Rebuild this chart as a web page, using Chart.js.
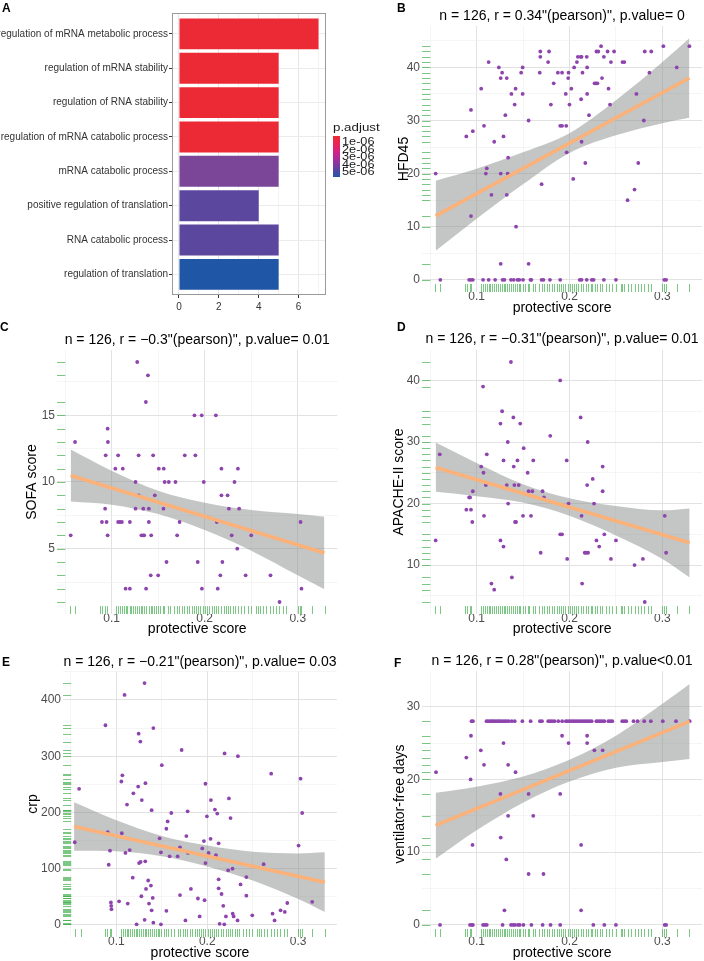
<!DOCTYPE html>
<html><head><meta charset="utf-8">
<script src="https://cdn.jsdelivr.net/npm/chart.js@4.4.1/dist/chart.umd.min.js"></script>
<style>
html,body{margin:0;padding:0;background:#fff;}
#wrap{position:relative;width:704px;height:961px;overflow:hidden;font-family:'Liberation Sans',Arial,Helvetica,sans-serif;background:#fff;}
canvas{position:absolute;}
.lab{position:absolute;font-weight:bold;font-size:12px;line-height:12px;color:#000;}
.lg{position:absolute;font-size:10px;line-height:12px;color:#1a1a1a;transform:scaleX(1.27);transform-origin:0 0;white-space:nowrap;}
</style></head><body>
<div id="wrap">
<canvas id="cA" width="352" height="320" style="left:0;top:0"></canvas>
<canvas id="cB" width="352" height="320" style="left:352px;top:0"></canvas>
<canvas id="cC" width="352" height="320" style="left:0;top:320px"></canvas>
<canvas id="cD" width="352" height="320" style="left:352px;top:320px"></canvas>
<canvas id="cE" width="352" height="321" style="left:0;top:640px"></canvas>
<canvas id="cF" width="352" height="321" style="left:352px;top:640px"></canvas>
<div class="lab" style="left:2px;top:2.4px">A</div>
<div class="lab" style="left:397px;top:1.7px">B</div>
<div class="lab" style="left:0px;top:321.4px">C</div>
<div class="lab" style="left:397px;top:321.4px">D</div>
<div class="lab" style="left:2px;top:656.4px">E</div>
<div class="lab" style="left:394px;top:657.4px">F</div>
<div class="lg" style="left:333px;top:120.5px;font-size:10.5px">p.adjust</div>
<div style="position:absolute;left:333px;top:136px;width:7px;height:41px;background:linear-gradient(to bottom,#EE2A33 0%,#E8245E 22%,#D3208A 40%,#A32E9C 58%,#6C3FA0 76%,#2356A6 100%);"></div>
<div class="lg" style="left:342px;top:136px">1e-06</div>
<div class="lg" style="left:342px;top:143.5px">2e-06</div>
<div class="lg" style="left:342px;top:151px">3e-06</div>
<div class="lg" style="left:342px;top:158.5px">4e-06</div>
<div class="lg" style="left:342px;top:166px">5e-06</div>
</div>
<script>
// ---------------- Panel A data ----------------
const goTerms = ["regulation of mRNA metabolic process","regulation of mRNA stability","regulation of RNA stability","regulation of mRNA catabolic process","mRNA catabolic process","positive regulation of translation","RNA catabolic process","regulation of translation"];
const goCounts = [7,5,5,5,5,4,5,5];
const barColors = ['#EC2A35','#EC2A35','#EC2A35','#EC2A35','#7B4598','#5B479E','#5B479E','#1F56A6'];
const countTicks = [0,2,4,6];

// ---------------- shared rug of protective scores ----------------
const rugScores = [0.055,0.061,0.0871,0.0896,0.0925,0.0945,0.105,0.1068,0.1093,0.1115,
0.1132,0.115,0.1168,0.1193,0.1211,0.1232,0.1254,0.1275,0.129,0.1311,
0.1329,0.1346,0.1372,0.1397,0.1418,0.1436,0.1454,0.1472,0.1496,0.1525,
0.155,0.1568,0.1604,0.1632,0.1675,0.1704,0.1729,0.1754,0.1782,0.1811,
0.1836,0.1865,0.189,0.1908,0.1932,0.1954,0.1979,0.2004,0.2025,0.205,
0.2075,0.2096,0.2122,0.2147,0.2176,0.2204,0.2229,0.2247,0.2272,0.23,
0.2326,0.2354,0.239,0.2426,0.2461,0.2497,0.2551,0.257,0.259,0.2625,
0.2658,0.27,0.2732,0.2768,0.28,0.2846,0.2875,0.3,0.302,0.304,
0.3154,0.329];
const scoreTicks = [0.1,0.2,0.3];

// ---------------- Panel B: HFD45 ----------------
const hfdX = [0.056,0.061,0.089,0.094,0.092,0.094,0.096,0.094,0.096,0.105,
0.107,0.108,0.110,0.111,0.113,0.113,0.116,0.119,0.120,0.124,
0.126,0.126,0.126,0.1275,0.128,0.130,0.129,0.131,0.1325,0.1325,
0.134,0.1335,0.1375,0.137,0.140,0.141,0.142,0.1425,0.144,0.146,
0.148,0.1496,0.1496,0.150,0.156,0.156,0.158,0.159,0.168,0.1686,
0.1686,0.170,0.170,0.172,0.177,0.178,0.180,0.179,0.183,0.1875,
0.190,0.190,0.192,0.192,0.196,0.1965,0.197,0.1986,0.199,0.200,
0.202,0.204,0.205,0.208,0.209,0.212,0.213,0.211,0.213,0.2125,
0.213,0.214,0.217,0.2186,0.219,0.219,0.2186,0.221,0.224,0.226,
0.227,0.2286,0.230,0.229,0.231,0.234,0.235,0.237,0.237,0.241,
0.242,0.2436,0.2446,0.248,0.250,0.257,0.259,0.2625,0.270,0.272,
0.274,0.280,0.281,0.286,0.288,0.301,0.302,0.304,0.3154,0.329];
const hfdY = [20,0,27,32,0,0,0,12,28,36,
0,29,20,21,41,0,16,26,0,40,
38,20,3,39,0,0,27,31,38,16,
23,20,35,0,0,33,36,10,0,0,
39,40,35,0,30,3,0,0,39,43,
42,18,0,0,41,43,33,0,37,39,
0,29,29,39,35,29,24,38,39,33,
36,19,40,41,42,42,42,0,0,34,
26,39,22,42,40,35,0,31,0,0,
37,37,37,43,43,44,38,42,0,43,
36,33,41,43,0,41,41,15,17,35,
22,30,43,39,43,44,0,0,40,44];
const hfdBandX = [0.056,0.1,0.15,0.2,0.25,0.3,0.329];
const hfdHi = [18.65,20.9,24.0,27.6,33.8,41.0,45.5];
const hfdLo = [5.45,11.5,18.0,23.9,27.2,29.5,30.5];
const hfdFit = [12.05,38.0];

// ---------------- Panel C: SOFA ----------------
const sofaX = [0.056,0.0607,0.0896,0.093,0.0936,0.0946,0.0957,0.096,0.0957,0.104,
0.107,0.107,0.109,0.111,0.112,0.115,0.1196,0.1196,0.1257,0.1257,
0.1275,0.129,0.129,0.132,0.134,0.135,0.134,0.1368,0.137,0.139,
0.140,0.140,0.142,0.1425,0.1446,0.1464,0.150,0.1507,0.156,0.1557,
0.157,0.1614,0.159,0.1686,0.1704,0.173,0.1786,0.189,0.190,0.1925,
0.1968,0.197,0.199,0.212,0.213,0.214,0.2168,0.218,0.218,0.219,
0.2246,0.226,0.229,0.232,0.235,0.2357,0.237,0.244,0.250,0.2707,
0.2804,0.303,0.304];
const sofaY = [6,13,7,8,12,7,14,13,6,11,
12,7,7,7,11,2,2,7,10,8,
19,12,9,6,6,6,8,16,2,18,
8,7,3,6,12,9,3,11,11,8,
10,10,4,10,6,7,12,15,12,4,
15,2,10,15,7,2,3,11,9,4,
9,8,6,10,5,11,8,3,6,3,
1,7,2];
const sofaBandX = [0.056,0.1,0.15,0.2,0.25,0.3,0.3286];
const sofaHi = [12.44,10.85,9.35,8.45,7.9,7.6,7.4];
const sofaLo = [8.54,8.3,7.6,6.4,4.85,3.0,1.96];
const sofaFit = [10.49,4.68];

// ---------------- Panel D: APACHE-II ----------------
const apacheX = [0.056,0.0604,0.089,0.092,0.093,0.094,0.0954,0.096,0.105,0.107,
0.1075,0.108,0.110,0.111,0.116,0.119,0.1257,0.1257,0.1275,0.129,
0.129,0.1325,0.1336,0.134,0.137,0.138,0.1396,0.140,0.1407,0.1414,
0.1425,0.144,0.1454,0.147,0.150,0.1507,0.155,0.156,0.1586,0.160,
0.161,0.169,0.171,0.1725,0.1793,0.190,0.190,0.192,0.197,0.1975,
0.199,0.212,0.213,0.2136,0.2164,0.218,0.220,0.219,0.2196,0.225,
0.2264,0.229,0.232,0.2357,0.2357,0.2375,0.2446,0.250,0.270,0.279,
0.281,0.3025,0.304];
const apacheY = [14,28,19,21,21,19,17,22,26,39,
25,18,23,28,7,6,33,14,35,27,
13,23,30,20,43,8,34,26,23,17,
17,27,23,33,18,29,25,22,18,22,
27,12,22,21,31,40,15,15,27,11,
20,34,18,7,12,12,12,23,30,24,
20,14,13,26,22,15,11,14,10,11,
4,18,12];
const apacheBandX = [0.056,0.1,0.15,0.2,0.25,0.3,0.3293];
const apacheHi = [29.9,26.6,23.15,20.85,19.6,18.9,19.2];
const apacheLo = [21.9,21.2,20.15,18.0,14.8,11.0,8.0];
const apacheFit = [25.86,13.63];

// ---------------- Panel E: crp ----------------
const crpX = [0.0542,0.059,0.088,0.0905,0.0916,0.093,0.094,0.0943,0.0946,0.103,
0.1055,0.1066,0.106,0.109,0.110,0.1117,0.1125,0.1147,0.118,0.1187,
0.1223,0.124,0.1245,0.125,0.1264,0.1267,0.1275,0.128,0.131,0.1311,
0.1318,0.132,0.1326,0.135,0.1359,0.138,0.1388,0.1388,0.140,0.1407,
0.1407,0.1476,0.149,0.149,0.150,0.155,0.155,0.1564,0.1586,0.1604,
0.1674,0.170,0.170,0.1718,0.176,0.177,0.1784,0.1788,0.182,0.1897,
0.1916,0.1945,0.1963,0.197,0.198,0.198,0.1996,0.2015,0.2036,0.204,
0.2084,0.2095,0.211,0.2125,0.2125,0.2125,0.2136,0.2157,0.2176,0.2187,
0.219,0.2205,0.223,0.2238,0.2256,0.2278,0.228,0.229,0.2333,0.2337,
0.2366,0.243,0.243,0.2495,0.262,0.2703,0.2718,0.274,0.2806,0.2853,
0.288,0.3004,0.3026,0.3044,0.3154];
const crpY = [147,242,355,165,107,132,40,34,28,42,
255,266,163,409,128,214,38,133,84,234,
1,246,340,110,326,112,51,222,430,9,
113,252,64,79,38,70,204,26,48,350,
4,154,1,129,284,25,171,184,122,199,
122,138,53,311,8,158,202,128,64,47,
15,136,149,44,251,110,193,128,153,222,
205,124,198,81,65,145,2,55,34,1,
305,15,97,225,190,100,20,15,8,300,
72,85,52,17,108,269,20,8,26,23,
39,141,260,199,41];
const crpBandX = [0.0535,0.1,0.15,0.2,0.25,0.3,0.3293];
const crpHi = [218,186,158,141,130,127,129];
const crpLo = [132,131,122,104,79,46,23];
const crpFit = [175,76];

// ---------------- Panel F: ventilator-free days ----------------
const vfdX = [0.0946,0.0961,0.1107,0.1125,0.1146,0.1164,0.1182,0.12,0.1221,0.1239,
0.1257,0.1279,0.13,0.1321,0.1346,0.1379,0.1411,0.1493,0.1582,0.1682,
0.1704,0.1771,0.1793,0.1814,0.1839,0.1879,0.1921,0.1961,0.1982,0.2004,
0.2025,0.2046,0.2068,0.2089,0.2111,0.2132,0.2154,0.2175,0.2196,0.2218,
0.2239,0.2289,0.2311,0.2332,0.2354,0.2375,0.2418,0.2439,0.2461,0.2568,
0.2589,0.2611,0.2689,0.2732,0.2804,0.2875,0.3004,0.3146,0.3293,
0.0564,0.0607,0.089,0.0936,0.094,0.0957,0.093,0.095,0.096,0.1046,
0.108,0.107,0.109,0.111,0.1257,0.126,0.128,0.129,0.130,0.132,
0.134,0.134,0.1371,0.1393,0.1414,0.1446,0.1464,0.1504,0.142,0.156,
0.156,0.159,0.161,0.1711,0.1796,0.190,0.172,0.190,0.192,0.199,
0.2125,0.2125,0.219,0.219,0.2257,0.2268,0.2357,0.2375,0.250,0.3025,
0.304];
const vfdY = [28,28,28,28,28,28,28,28,28,28,
28,28,28,28,28,28,28,28,28,28,
28,28,28,28,28,28,28,28,28,28,
28,28,28,28,28,28,28,28,28,28,
28,28,28,28,28,28,28,28,28,28,
28,28,28,28,28,28,28,28,28,
21,0,23,20,26,11,0,0,0,24,
22,0,0,0,18,12,0,25,2,9,
22,15,0,0,0,0,0,0,21,18,
7,0,15,0,0,0,7,18,26,25,
11,2,26,25,0,24,24,0,0,0,
0];
const vfdBandX = [0.056,0.1,0.15,0.2,0.25,0.3,0.3293];
const vfdHi = [18.15,19.0,20.4,22.7,26.0,30.4,33.1];
const vfdLo = [9.1,13.0,16.8,19.7,21.6,22.4,22.8];
const vfdFit = [13.69,27.97];

// ---------------- styling ----------------
const FONT = "'Liberation Sans', Arial, Helvetica, sans-serif";
Chart.defaults.font.family = FONT;
const PURPLE = '#8E44AD';
const ORANGE = '#FBB27A';
const BAND = 'rgba(138,140,140,0.5)';
const RUG = 'rgba(50,170,65,0.65)';
const GRID_MAJ = '#E2E2E2';
const GRID_MIN = '#F0F0F0';
const TICK_COL = '#4D4D4D';

function near(v, list){ return list.some(t => Math.abs(t - v) < 1e-6); }
function uniq(a){ return Array.from(new Set(a)); }

function makeRug(xs, ys){
  return {
    id: 'rug',
    beforeDatasetsDraw(chart){
      const {ctx, chartArea: a, scales} = chart;
      const lx = 0.03 * (a.bottom - a.top), ly = 0.03 * (a.right - a.left);
      ctx.save();
      ctx.strokeStyle = RUG; ctx.lineWidth = 1;
      xs.forEach(v => {
        const p = Math.round(scales.x.getPixelForValue(v)) + 0.5;
        ctx.beginPath(); ctx.moveTo(p, a.bottom); ctx.lineTo(p, a.bottom - lx); ctx.stroke();
      });
      ys.forEach(v => {
        const p = Math.round(scales.y.getPixelForValue(v)) + 0.5;
        ctx.beginPath(); ctx.moveTo(a.left, p); ctx.lineTo(a.left + ly, p); ctx.stroke();
      });
      ctx.restore();
    }
  };
}

function scatterPanel(id, g){
  const pts = g.x.map((v, i) => ({x: v, y: g.y[i]}));
  const hi = g.bandX.map((v, i) => ({x: v, y: g.hi[i]}));
  const lo = g.bandX.map((v, i) => ({x: v, y: g.lo[i]}));
  const fit = [{x: g.bandX[0], y: g.fit[0]}, {x: g.bandX[g.bandX.length - 1], y: g.fit[1]}];
  new Chart(document.getElementById(id), {
    type: 'scatter',
    data: {datasets: [
      {type: 'line', data: fit, borderColor: ORANGE, borderWidth: 3.6, pointRadius: 0, fill: false, order: 0, borderCapStyle: 'butt'},
      {data: pts, pointRadius: 1.9, pointHoverRadius: 1.9, backgroundColor: PURPLE, borderWidth: 0, order: 1},
      {type: 'line', data: hi, borderColor: 'rgba(0,0,0,0)', borderWidth: 0, pointRadius: 0, fill: '+1', backgroundColor: BAND, cubicInterpolationMode: 'monotone', order: 2},
      {type: 'line', data: lo, borderColor: 'rgba(0,0,0,0)', borderWidth: 0, pointRadius: 0, fill: false, cubicInterpolationMode: 'monotone', order: 3}
    ]},
    options: {
      responsive: false, animation: false, events: [],
      layout: {padding: {left: 0, right: g.padRight, top: 0, bottom: 0}},
      plugins: {
        legend: {display: false}, tooltip: {enabled: false},
        title: {display: true, text: g.title, fullSize: false, color: '#000',
          font: {size: 14, weight: 'normal', lineHeight: 1}, padding: {top: g.tPad[0], bottom: g.tPad[1]}}
      },
      scales: {
        x: {type: 'linear', min: 0.0413, max: 0.3427,
          border: {display: false},
          grid: {drawTicks: false, color: c => near(c.tick.value, scoreTicks) ? GRID_MAJ : GRID_MIN, lineWidth: c => near(c.tick.value, scoreTicks) ? 1 : 0.7},
          ticks: {stepSize: 0.05, includeBounds: false, autoSkip: false, maxRotation: 0, padding: -1.5, color: TICK_COL,
            font: {size: 12, lineHeight: 1}, callback: v => near(v, scoreTicks) ? v.toFixed(1) : ''},
          title: {display: true, text: 'protective score', color: '#000', font: {size: 14, lineHeight: 1}, padding: {top: 0, bottom: g.xtPad}},
          afterFit: s => { s.height = g.axisH; }
        },
        y: {type: 'linear', min: g.yMin, max: g.yMax,
          border: {display: false},
          grid: {drawTicks: false, color: c => near(c.tick.value, g.yTicks) ? GRID_MAJ : GRID_MIN, lineWidth: c => near(c.tick.value, g.yTicks) ? 1 : 0.7},
          ticks: {stepSize: g.yStep, includeBounds: false, autoSkip: false, padding: 2, color: TICK_COL,
            font: {size: 12, lineHeight: 1}, callback: v => near(v, g.yTicks) ? String(v) : ''},
          title: {display: true, text: g.yTitle, color: '#000', font: {size: 14, lineHeight: 1}, padding: {top: g.ytPad, bottom: 0}},
          afterFit: s => { s.width = g.axisW; }
        }
      }
    },
    plugins: [makeRug(rugScores, uniq(g.y))]
  });
}

// ---------------- Panel A chart ----------------
const framePlugin = {
  id: 'frame',
  afterDatasetsDraw(chart){
    const {ctx, chartArea: a} = chart;
    ctx.save(); ctx.strokeStyle = '#9A9A9A'; ctx.lineWidth = 1;
    ctx.strokeRect(Math.round(a.left) + 0.5, Math.round(a.top) + 0.5, Math.round(a.right - a.left) - 1, Math.round(a.bottom - a.top) - 1);
    ctx.restore();
  }
};
new Chart(document.getElementById('cA'), {
  type: 'bar',
  data: {datasets: [{data: goCounts.map((v, i) => ({x: v, y: i})), backgroundColor: barColors, borderWidth: 0, barPercentage: 0.9, categoryPercentage: 1}]},
  options: {
    indexAxis: 'y', responsive: false, animation: false, events: [],
    layout: {padding: {left: 0, right: 26.5, top: 13.3, bottom: 0}},
    plugins: {legend: {display: false}, tooltip: {enabled: false}},
    scales: {
      x: {type: 'linear', min: -0.35, max: 7.35, offset: false, border: {display: false},
        grid: {drawTicks: true, tickLength: 3, offset: false, color: c => near(c.tick.value, countTicks) ? '#E6E6E6' : '#F2F2F2',
          tickColor: c => near(c.tick.value, countTicks) ? '#333' : 'rgba(0,0,0,0)'},
        ticks: {stepSize: 1, includeBounds: false, autoSkip: false, maxRotation: 0, padding: 4, color: '#333', font: {size: 10, lineHeight: 1},
          callback: v => near(v, countTicks) ? String(v) : ''},
        afterFit: s => { s.height = 25; }
      },
      y: {type: 'linear', reverse: true, min: -0.6, max: 7.6, offset: false, border: {display: false},
        grid: {drawTicks: true, tickLength: 3, offset: false, color: '#EBEBEB', tickColor: '#333'},
        ticks: {stepSize: 1, includeBounds: false, autoSkip: false, padding: 1, color: '#333', font: {size: 10, lineHeight: 1},
          callback: v => goTerms[Math.round(v)] || ''},
        afterFit: s => { s.width = 172; }
      }
    }
  },
  plugins: [framePlugin]
});

scatterPanel('cB', {x: hfdX, y: hfdY, bandX: hfdBandX, hi: hfdHi, lo: hfdLo, fit: hfdFit,
  yMin: -2.3, yMax: 47.8, yStep: 5, yTicks: [0,10,20,30,40], yTitle: 'HFD45',
  title: 'n = 126, r = 0.34"(pearson)", p.value= 0', axisW: 70, axisH: 28, padRight: 0, tPad: [9.5, 2.5], xtPad: 5, ytPad: 44.7});
scatterPanel('cC', {x: sofaX, y: sofaY, bandX: sofaBandX, hi: sofaHi, lo: sofaLo, fit: sofaFit,
  yMin: 0.1, yMax: 19.9, yStep: 2.5, yTicks: [5,10,15], yTitle: 'SOFA score',
  title: 'n = 126, r = \u22120.3"(pearson)", p.value= 0.01', axisW: 57, axisH: 26, padRight: 14.5, tPad: [13, 3], xtPad: 4, ytPad: 25.3});
scatterPanel('cD', {x: apacheX, y: apacheY, bandX: apacheBandX, hi: apacheHi, lo: apacheLo, fit: apacheFit,
  yMin: 2.05, yMax: 44.95, yStep: 5, yTicks: [10,20,30,40], yTitle: 'APACHE-II score',
  title: 'n = 126, r = \u22120.31"(pearson)", p.value= 0.01', axisW: 70, axisH: 26, padRight: 0, tPad: [12.5, 3.5], xtPad: 4, ytPad: 39.7});
scatterPanel('cE', {x: crpX, y: crpY, bandX: crpBandX, hi: crpHi, lo: crpLo, fit: crpFit,
  yMin: -21.5, yMax: 451.5, yStep: 50, yTicks: [0,100,200,300,400], yTitle: 'crp',
  title: 'n = 126, r = \u22120.21"(pearson)", p.value= 0.03', axisW: 63, axisH: 24, padRight: 15, tPad: [15, 2], xtPad: 1, ytPad: 26.3});
scatterPanel('cF', {x: vfdX, y: vfdY, bandX: vfdBandX, hi: vfdHi, lo: vfdLo, fit: vfdFit,
  yMin: -1.66, yMax: 34.9, yStep: 5, yTicks: [0,10,20,30], yTitle: 'ventilator-free days',
  title: 'n = 126, r = 0.28"(pearson)", p.value<0.01', axisW: 70, axisH: 24, padRight: 0, tPad: [14, 3], xtPad: 1, ytPad: 41.3});
</script>
</body></html>
